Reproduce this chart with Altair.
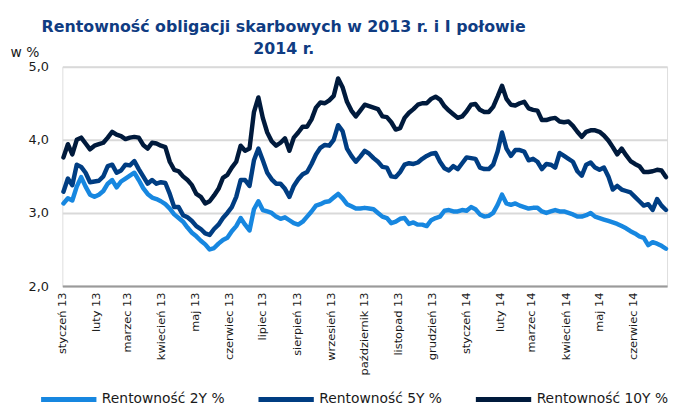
import altair as alt
import pandas as pd

# x positions: sampling dates (every 4 days from 2 Jan 2013 to 30 Jun 2014)
dates = pd.date_range("2013-01-02", periods=137, freq="4D").strftime("%Y-%m-%d").tolist()

y2 = [
    3.13, 3.20, 3.17, 3.36, 3.49, 3.36, 3.25, 3.22, 3.25, 3.30,
    3.40, 3.45, 3.35, 3.43, 3.47, 3.51, 3.55, 3.45, 3.34, 3.26,
    3.21, 3.19, 3.16, 3.12, 3.06, 2.98, 2.93, 2.88, 2.80, 2.73,
    2.68, 2.62, 2.57, 2.50, 2.52, 2.58, 2.63, 2.66, 2.75, 2.82,
    2.93, 2.84, 2.76, 3.05, 3.16, 3.04, 3.02, 3.00, 2.95, 2.92,
    2.94, 2.90, 2.86, 2.84, 2.88, 2.95, 3.02, 3.10, 3.12, 3.15,
    3.16, 3.21, 3.26, 3.20, 3.12, 3.09, 3.06, 3.06, 3.07, 3.06,
    3.05, 3.00, 2.95, 2.93, 2.86, 2.88, 2.92, 2.93, 2.85, 2.87,
    2.84, 2.84, 2.82, 2.90, 2.93, 2.95, 3.03, 3.04, 3.02, 3.02,
    3.04, 3.03, 3.08, 3.05, 2.98, 2.95, 2.96, 3.00, 3.11, 3.25,
    3.13, 3.11, 3.13, 3.10, 3.08, 3.06, 3.07, 3.07, 3.02, 3.00,
    3.02, 3.04, 3.02, 3.02, 3.00, 2.98, 2.95, 2.95, 2.97, 3.00,
    2.95, 2.93, 2.91, 2.89, 2.87, 2.85, 2.82, 2.79, 2.75, 2.72,
    2.68, 2.66, 2.56, 2.60, 2.58, 2.55, 2.51,
]

y5 = [
    3.29, 3.47, 3.38, 3.66, 3.63, 3.55, 3.42, 3.43, 3.44, 3.50,
    3.64, 3.66, 3.55, 3.58, 3.66, 3.65, 3.71, 3.60, 3.50, 3.40,
    3.45, 3.40, 3.42, 3.41, 3.26, 3.08, 3.08, 2.97, 2.94, 2.89,
    2.82, 2.78, 2.72, 2.70, 2.78, 2.84, 2.93, 3.00, 3.08, 3.22,
    3.45, 3.45, 3.37, 3.72, 3.88, 3.72, 3.55, 3.46, 3.40, 3.40,
    3.33, 3.22, 3.37, 3.46, 3.53, 3.56, 3.67, 3.80, 3.89, 3.93,
    3.92, 4.00, 4.20, 4.12, 3.88, 3.78, 3.70, 3.77, 3.85, 3.81,
    3.75, 3.70, 3.63, 3.62, 3.50, 3.49, 3.56, 3.66, 3.68, 3.67,
    3.69, 3.74, 3.78, 3.81, 3.82, 3.70, 3.61, 3.58, 3.64, 3.60,
    3.68, 3.76, 3.75, 3.74, 3.62, 3.60, 3.60, 3.66, 3.84, 4.10,
    3.88, 3.78, 3.86, 3.86, 3.84, 3.72, 3.74, 3.70, 3.60, 3.67,
    3.66, 3.62, 3.82, 3.78, 3.74, 3.70, 3.57, 3.51, 3.66, 3.69,
    3.62, 3.59, 3.62, 3.50, 3.32, 3.37, 3.32, 3.30, 3.28, 3.22,
    3.16, 3.10, 3.12, 3.04, 3.19, 3.10, 3.04,
]

y10 = [
    3.76, 3.94, 3.80, 4.00, 4.03, 3.95, 3.87, 3.92, 3.94, 3.96,
    4.03, 4.11, 4.07, 4.05, 4.01, 4.03, 4.04, 4.03, 3.93, 3.88,
    3.96, 3.95, 3.92, 3.90, 3.70, 3.59, 3.57, 3.50, 3.45, 3.38,
    3.26, 3.22, 3.13, 3.16, 3.24, 3.33, 3.48, 3.52, 3.62, 3.70,
    3.92, 3.85, 3.88, 4.38, 4.58, 4.30, 4.10, 3.98, 3.92, 3.96,
    4.02, 3.85, 4.03, 4.10, 4.18, 4.18, 4.28, 4.44, 4.51, 4.50,
    4.54, 4.60, 4.84, 4.72, 4.52, 4.40, 4.32, 4.40, 4.48, 4.46,
    4.44, 4.42, 4.32, 4.31, 4.24, 4.14, 4.16, 4.30, 4.37, 4.42,
    4.48, 4.50, 4.50, 4.56, 4.59, 4.55, 4.46, 4.40, 4.35, 4.30,
    4.32, 4.39, 4.48, 4.49, 4.41, 4.38, 4.38, 4.45, 4.59, 4.74,
    4.56, 4.48, 4.47, 4.50, 4.52, 4.43, 4.41, 4.40, 4.27, 4.27,
    4.29, 4.30, 4.25, 4.24, 4.25, 4.19, 4.11, 4.04, 4.11, 4.13,
    4.13, 4.11, 4.06, 3.99, 3.90, 3.80, 3.88, 3.79, 3.71, 3.67,
    3.64, 3.56, 3.56, 3.57, 3.59, 3.58, 3.49,
]

series_names = ["Rentowność 2Y %", "Rentowność 5Y %", "Rentowność 10Y %"]
series_colors = ["#1787e0", "#003d82", "#001a3c"]
month_names = ["styczeń", "luty", "marzec", "kwiecień", "maj", "czerwiec", "lipiec",
               "sierpień", "wrzesień", "październik", "listopad", "grudzień"]
y_ticks = [2, 3, 4, 5]
title_lines = ["Rentowność obligacji skarbowych w 2013 r. i I połowie", "2014 r."]

rows = []
for name, vals in zip(series_names, [y2, y5, y10]):
    for d, v in zip(dates, vals):
        rows.append({"data": d, "seria": name, "wartosc": v})
df = pd.DataFrame(rows)

month_ticks = [alt.DateTime(year=2013 + m // 12, month=m % 12 + 1, date=1, utc=True) for m in range(18)]
label_expr = ("[" + ",".join("'%s'" % n for n in month_names) + "][utcmonth(datum.value)]"
              " + ' ' + (utcyear(datum.value) % 100)")

FONT = "DejaVu Sans"
TXT = "#1a1a1a"

color = alt.Color(
    "seria:N",
    scale=alt.Scale(domain=series_names, range=series_colors),
    legend=alt.Legend(
        title=None, orient="none", legendX=-24, legendY=306,
        direction="horizontal", columns=3,
        symbolType="stroke", symbolSize=3136, symbolStrokeWidth=5,
        labelFont=FONT, labelFontSize=14, labelColor=TXT, labelOffset=3,
        columnPadding=23, labelLimit=300,
    ),
)

base = alt.Chart(df).mark_line(strokeWidth=4.5, strokeJoin="round", strokeCap="round").encode(
    x=alt.X(
        "data:T",
        scale=alt.Scale(type="utc", domain=[alt.DateTime(year=2013, month=1, date=1, utc=True),
                                           alt.DateTime(year=2014, month=7, date=1, utc=True)]),
        axis=alt.Axis(
            values=month_ticks, labelExpr=label_expr, labelAngle=-90, labelAlign="right",
            labelBaseline="middle", labelFont=FONT, labelFontSize=11.5, labelColor=TXT,
            labelPadding=6, ticks=False, grid=False, domain=True, domainColor="#9a9a9a",
            domainWidth=2, labelOverlap=False, labelFlush=False, labelBound=False,
        ),
        title=None,
    ),
    y=alt.Y(
        "wartosc:Q",
        scale=alt.Scale(domain=[2, 5], nice=False, zero=False),
        axis=alt.Axis(
            values=y_ticks, labelExpr="replace(format(datum.value, '.1f'), '.', ',')",
            labelFont=FONT, labelFontSize=13, labelColor=TXT, labelPadding=14,
            ticks=False, tickSize=0, domain=False, grid=True, gridColor="#d9d9d9", gridWidth=2,
            titleAngle=0, titleX=-53, titleY=-10, titleAlign="left", titleBaseline="alphabetic",
            titleFont=FONT, titleFontSize=14, titleFontWeight="normal", titleColor=TXT,
        ),
        title="w %",
    ),
    color=color,
)

layers = [base.transform_filter(alt.datum.seria == n) for n in series_names]

chart = alt.layer(*layers).properties(
    width=612,
    height=222,
    title=alt.Title(
        text=title_lines, font=FONT, fontSize=16, fontWeight="bold", color="#0f3c82",
        anchor="middle", frame="group", dx=-82, dy=40, offset=13, baseline="bottom",
        lineHeight=22,
    ),
    padding={"left": 55, "top": 57, "right": 5, "bottom": 121},
    autosize=alt.AutoSizeParams(type="none"),
).configure_view(stroke=None).configure(background="white")

chart.save("out.html", embed_options={"renderer": "svg", "actions": False})
